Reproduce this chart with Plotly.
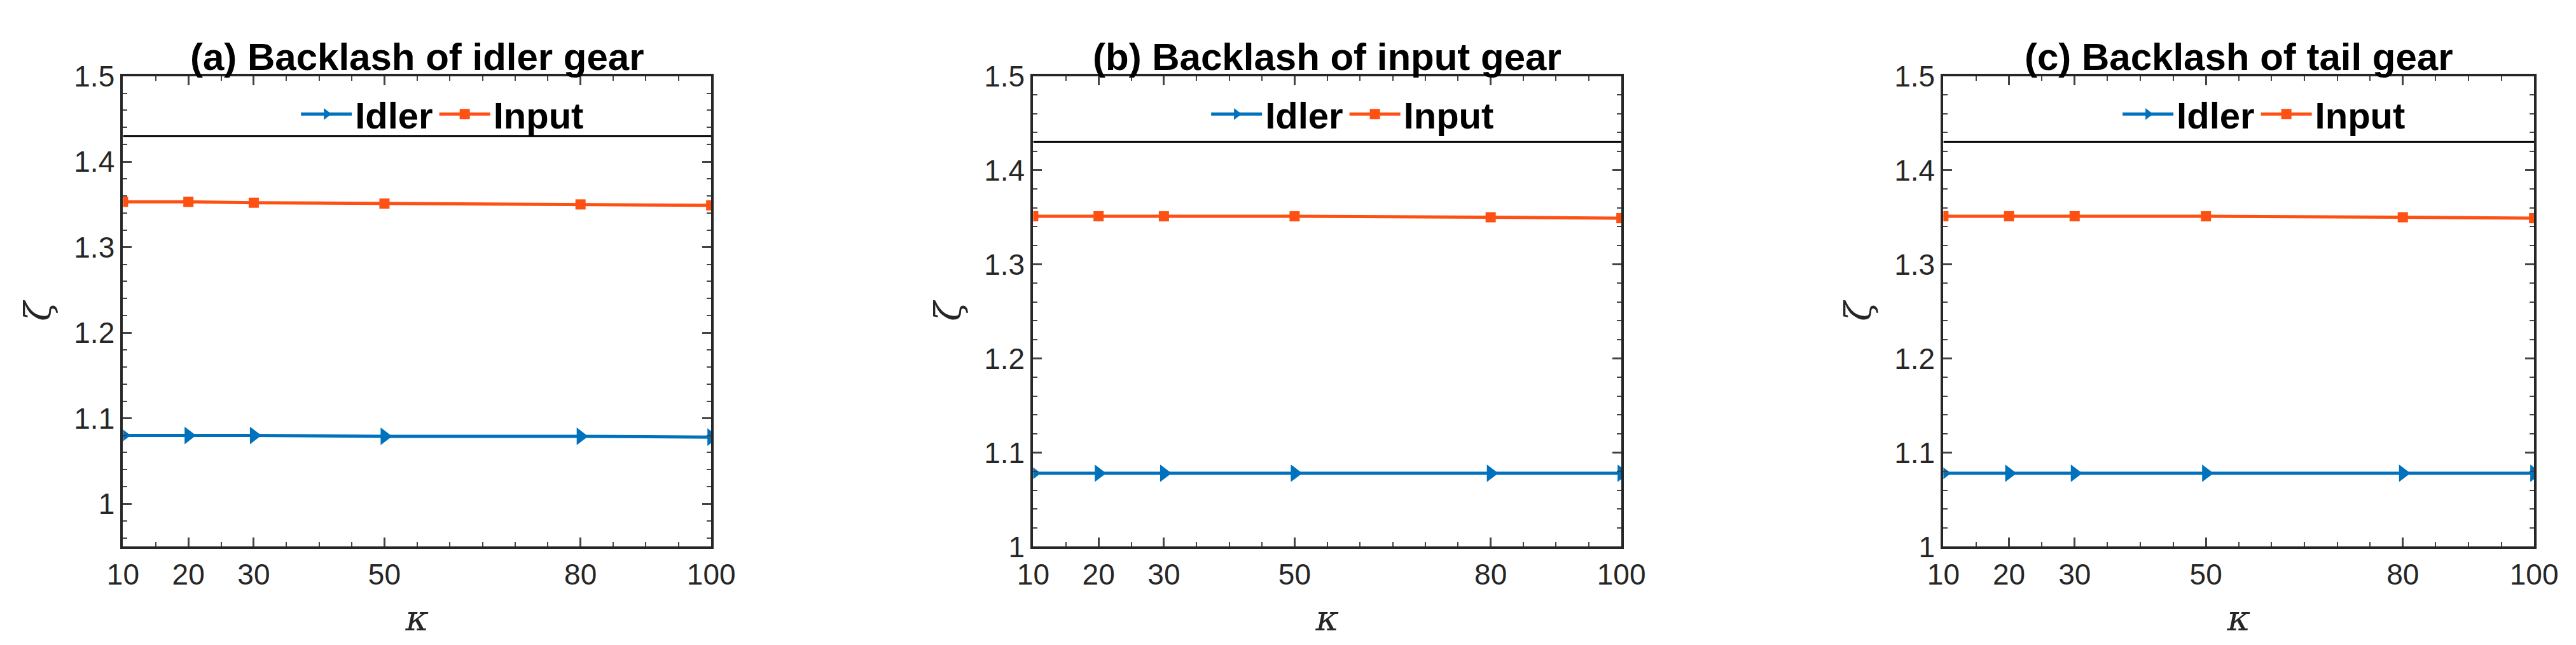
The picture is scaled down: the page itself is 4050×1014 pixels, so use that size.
import plotly.graph_objects as go
from plotly.subplots import make_subplots

kappa = [10, 20, 30, 50, 80, 100]
titles = ["(a) Backlash of idler gear", "(b) Backlash of input gear", "(c) Backlash of tail gear"]
idler = [
    [1.080, 1.080, 1.080, 1.079, 1.079, 1.078],
    [1.078, 1.078, 1.078, 1.078, 1.078, 1.078],
    [1.078, 1.078, 1.078, 1.078, 1.078, 1.078],
]
inp = [
    [1.353, 1.353, 1.352, 1.351, 1.350, 1.349],
    [1.351, 1.351, 1.351, 1.351, 1.350, 1.349],
    [1.351, 1.351, 1.351, 1.351, 1.350, 1.349],
]
ref_line = 1.43
y_ranges = [[0.95, 1.5], [1.0, 1.5], [1.0, 1.5]]
x_ticks = [10, 20, 30, 50, 80, 100]

fig = make_subplots(rows=1, cols=3)
domains = [[0.040, 0.272], [0.399, 0.631], [0.758, 0.991]]
font = "Liberation Sans Narrow, Liberation Sans, Arial"
blue = "#0072BD"
red = "#FF5014"

for i in range(3):
    lname = "legend" if i == 0 else f"legend{i + 1}"
    fig.add_trace(go.Scatter(x=kappa, y=idler[i], mode="lines+markers", name="<b>Idler</b>",
                             line=dict(color=blue, width=5),
                             marker=dict(symbol="triangle-right", size=24, color=blue),
                             legend=lname), row=1, col=i + 1)
    fig.add_trace(go.Scatter(x=kappa, y=inp[i], mode="lines+markers", name="<b>Input</b>",
                             line=dict(color=red, width=5),
                             marker=dict(symbol="square", size=16, color=red),
                             legend=lname), row=1, col=i + 1)
    fig.add_trace(go.Scatter(x=[kappa[0], kappa[-1]], y=[ref_line, ref_line], mode="lines",
                             line=dict(color="black", width=3), showlegend=False,
                             hoverinfo="skip"), row=1, col=i + 1)

    cx = (domains[i][0] + domains[i][1]) / 2
    fig.add_annotation(text="<b>" + titles[i] + "</b>", xref="paper", yref="paper",
                       x=cx, xanchor="center", y=0.905, yanchor="bottom", showarrow=False,
                       font=dict(size=60, family=font, color="black"))
    fig.update_layout({lname: dict(x=cx + 0.01, y=0.895, xanchor="center", yanchor="top",
                                   orientation="h", bgcolor="rgba(0,0,0,0)",
                                   font=dict(size=58, family=font, color="black"),
                                   itemwidth=80)})

    fig.update_xaxes(row=1, col=i + 1, domain=domains[i], range=[10, 100],
                     tickvals=x_ticks, ticks="inside", ticklen=14, tickwidth=3,
                     mirror="ticks", showline=True, linewidth=4, linecolor="#262626",
                     showgrid=False, zeroline=False,
                     minor=dict(dtick=5, ticks="inside", ticklen=7, tickwidth=2),
                     tickfont=dict(size=46, family=font, color="#262626"),
                     title=dict(text="<i>κ</i>", font=dict(size=56, family="DejaVu Serif", color="#262626"),
                                standoff=25))
    fig.update_yaxes(row=1, col=i + 1, domain=[0.142, 0.911], range=y_ranges[i],
                     dtick=0.1, ticks="inside", ticklen=14, tickwidth=3,
                     mirror="ticks", showline=True, linewidth=4, linecolor="#262626",
                     showgrid=False, zeroline=False,
                     minor=dict(dtick=0.02, ticks="inside", ticklen=7, tickwidth=2),
                     tickfont=dict(size=46, family=font, color="#262626"),
                     title=dict(text="<i>ζ</i>", font=dict(size=56, family="DejaVu Serif", color="#262626"),
                                standoff=20))

fig.update_layout(width=4050, height=1014, plot_bgcolor="white", paper_bgcolor="white",
                  margin=dict(l=0, r=0, t=0, b=0))
fig.write_html("out.html")
